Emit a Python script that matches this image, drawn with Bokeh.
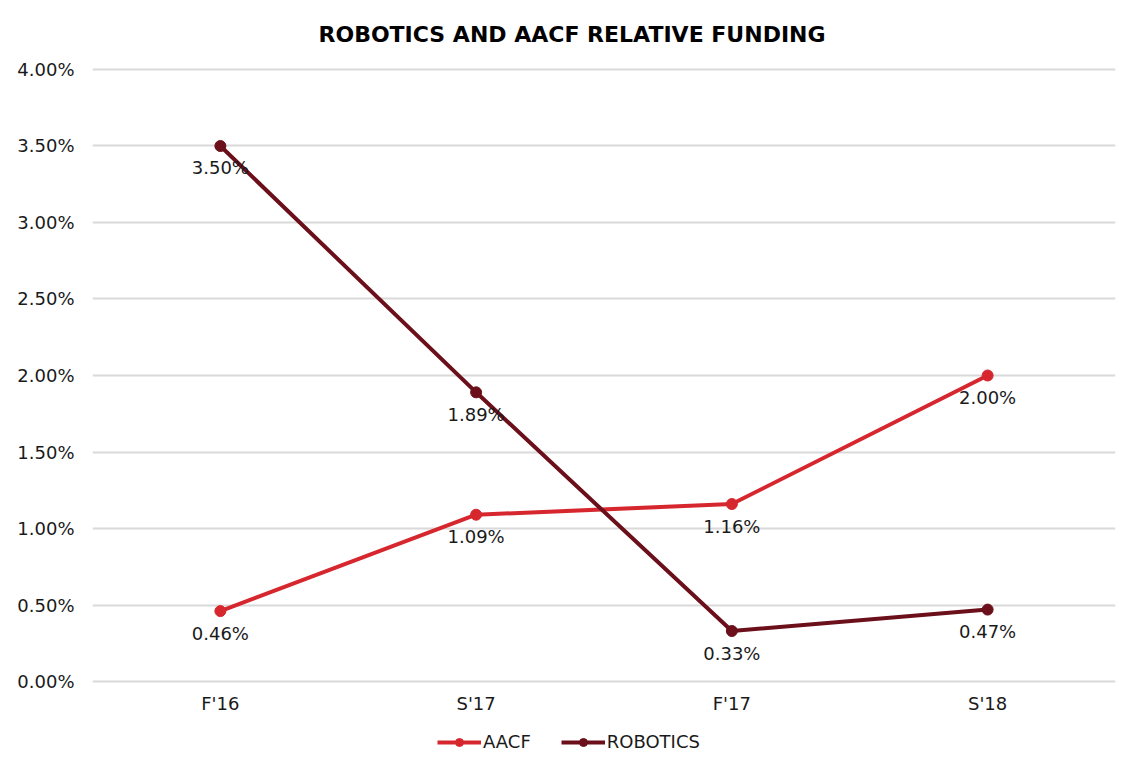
from bokeh.plotting import figure
from bokeh.layouts import column
from bokeh.models import (Range1d, FactorRange, NumeralTickFormatter, Legend, LegendItem,
                          ColumnDataSource, LabelSet)
from bokeh.core.properties import value
from bokeh.embed import file_html
from bokeh.resources import INLINE

categories = ["F'16", "S'17", "F'17", "S'18"]
aacf = [0.0046, 0.0109, 0.0116, 0.0200]
robotics = [0.0350, 0.0189, 0.0033, 0.0047]
y_ticks = [0.0, 0.005, 0.01, 0.015, 0.02, 0.025, 0.03, 0.035, 0.04]
series_names = ["AACF", "ROBOTICS"]

RED = "#D6272F"
MAROON = "#6B0F1A"
FONT = "DejaVu Sans"
TXT = "#1a1a1a"

p = figure(frame_width=1023, frame_height=618, output_backend="svg", toolbar_location=None,
           x_range=FactorRange(factors=categories, range_padding=0),
           y_range=Range1d(-0.000196, 0.040196),
           min_border_left=92, min_border_right=6, min_border_top=66, min_border_bottom=36)

p.title.text = "ROBOTICS AND AACF RELATIVE FUNDING"
p.title.align = "left"
p.title.offset = 226
p.title.text_font = FONT
p.title.text_font_style = "bold"
p.title.text_font_size = "22px"
p.title.text_color = "#000000"
p.title.standoff = 39

p.outline_line_color = None
p.xgrid.grid_line_color = None
p.ygrid.grid_line_color = "#D9D9D9"
p.ygrid.grid_line_width = 2

p.yaxis.ticker = y_ticks
p.yaxis.formatter = NumeralTickFormatter(format="0.00%")
for ax in (p.xaxis[0], p.yaxis[0]):
    ax.axis_line_color = None
    ax.major_tick_line_color = None
    ax.minor_tick_line_color = None
    ax.major_tick_out = 0
    ax.major_tick_in = 0
    ax.minor_tick_out = 0
    ax.major_label_text_font = FONT
    ax.major_label_text_font_size = "18px"
    ax.major_label_text_color = TXT
p.yaxis.major_label_standoff = 18
p.xaxis.major_label_standoff = 8

src_a = ColumnDataSource(dict(x=categories, y=aacf, t=[f"{v*100:.2f}%" for v in aacf]))
src_r = ColumnDataSource(dict(x=categories, y=robotics, t=[f"{v*100:.2f}%" for v in robotics]))

p.line("x", "y", source=src_a, line_color=RED, line_width=4)
p.scatter("x", "y", source=src_a, size=11, fill_color=RED, line_color=RED)
p.line("x", "y", source=src_r, line_color=MAROON, line_width=4)
p.scatter("x", "y", source=src_r, size=11, fill_color=MAROON, line_color=MAROON)

for src in (src_a, src_r):
    p.add_layout(LabelSet(x="x", y="y", text="t", source=src, y_offset=-22,
                          text_align="center", text_baseline="middle",
                          text_font=value(FONT), text_font_size="18px", text_color=TXT))

# legend strip below the chart (its renderers sit outside the strip's visible range)
q = figure(width=1121, height=40, output_backend="svg", toolbar_location=None,
           x_axis_location=None, y_axis_location=None,
           x_range=Range1d(0, 1), y_range=Range1d(0, 1),
           min_border_left=0, min_border_right=0, min_border_top=0, min_border_bottom=0)
q.outline_line_color = None
q.grid.visible = False
items = []
for name, col in zip(series_names, [RED, MAROON]):
    off = ColumnDataSource(dict(x=[-10, -9], y=[-10, -10]))
    l = q.line("x", "y", source=off, line_color=col, line_width=4)
    s = q.scatter("x", "y", source=off, size=11, fill_color=col, line_color=col)
    items.append(LegendItem(label=name, renderers=[l, s]))
legend = Legend(items=items, orientation="horizontal", location=(345, 8),
                glyph_width=44, glyph_height=20, label_standoff=2, spacing=30,
                label_text_font=FONT, label_text_font_size="18px", label_text_color=TXT,
                border_line_color=None, background_fill_alpha=0, padding=4, margin=0)
q.add_layout(legend)

layout = column(p, q, spacing=0)
open("out.html", "w").write(file_html(layout, INLINE))
